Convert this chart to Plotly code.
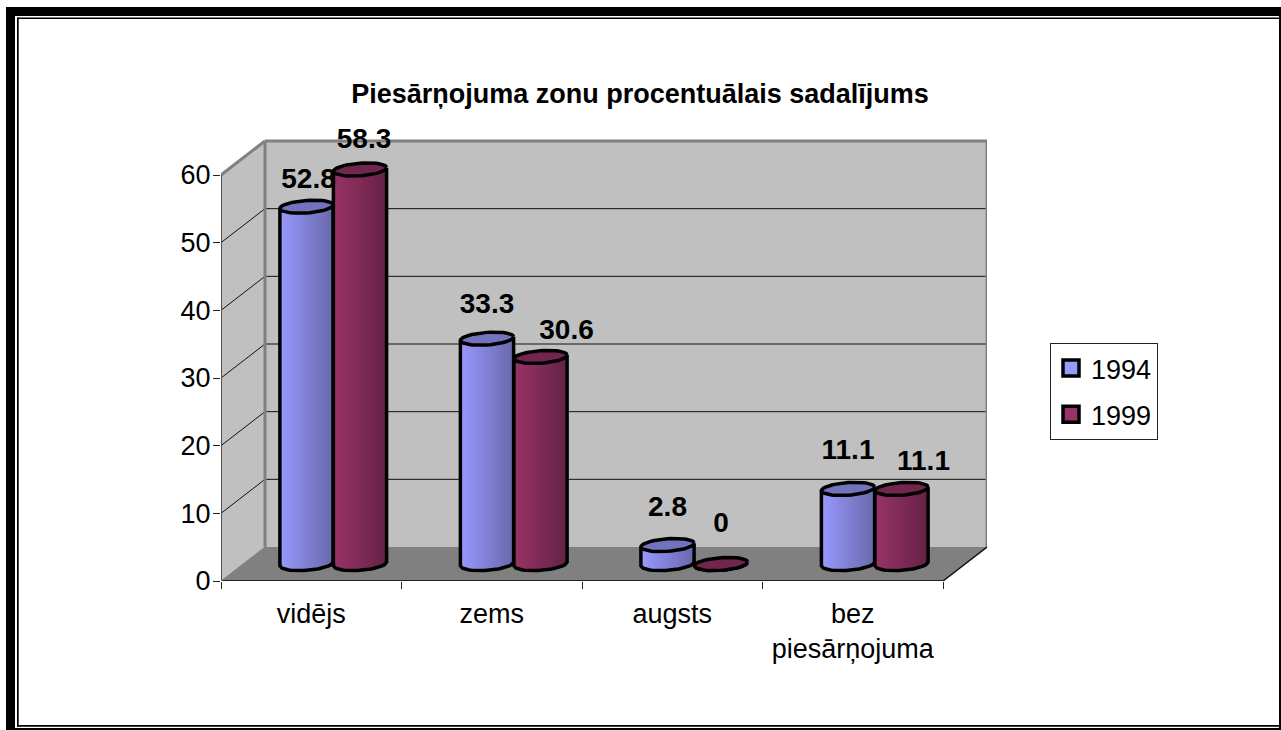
import plotly.graph_objects as go
import math

# ---------- data ----------
categories = ["vidējs", "zems", "augsts", "bez<br>piesārņojuma"]
years = ["1994", "1999"]
values_1994 = [52.8, 33.3, 2.8, 11.1]
values_1999 = [58.3, 30.6, 0, 11.1]
label_1994 = ["52.8", "33.3", "2.8", "11.1"]
label_1999 = ["58.3", "30.6", "0", "11.1"]
y_ticks = [0, 10, 20, 30, 40, 50, 60]
title_text = "Piesārņojuma zonu procentuālais sadalījums"

# ---------- layout constants (pixels) ----------
W, H = 1281, 730
PL, PR, PT, PB = 221, 987, 100, 581   # plot area (headroom above the back wall for labels)
CAT_W = 180.5                         # px per category
VAL_H = 406 / 60                      # px per value unit
DEPTH_X, DEPTH_Y = 44, 34
CYL_A, CYL_B, CYL_TILT = 26.6, 6.3, 0.07
N_STRIPS = 22
FONT = "Liberation Sans"
FS = 27
label_nudge_1994 = [(2, -26), (0, -33), (0, -36), (0, -37)]
label_nudge_1999 = [(4, -29), (26, -25), (0, -39), (22, -26)]

body_left = {"1994": (153, 153, 255), "1999": (153, 51, 102)}
body_right = {"1994": (104, 104, 172), "1999": (100, 34, 70)}
top_col = {"1994": "#7373BD", "1999": "#73264D"}
swatch = {"1994": "#9999FF", "1999": "#993366"}


def dx(px):
    return px / CAT_W


def dy(px):
    return px / VAL_H


def xval(px):
    return (px - PL) / CAT_W


def yval(py):
    return (PB - py) / VAL_H


def xp(px):
    return (px - PL) / (PR - PL)


def yp(py):
    return (PB - py) / (PB - PT)


def mix(a, b, t):
    return "rgb(%d,%d,%d)" % tuple(round(a[i] + (b[i] - a[i]) * t) for i in range(3))


fig = go.Figure()

series = [("1994", values_1994, label_1994, label_nudge_1994, -1),
          ("1999", values_1999, label_1999, label_nudge_1999, 1)]
base = dy(DEPTH_Y / 2)


def center_x(i, side):
    return i + 0.5 + dx(DEPTH_X / 2) + side * dx(CYL_A + 0.15)


def lower(off):
    """downward pixel offset of the lower half of the tilted ellipse"""
    r = max(0.0, 1 - (off / CYL_A) ** 2)
    return CYL_B * math.sqrt(r) - CYL_TILT * off


# cylinder bodies: plain bars underneath, shaded strips and outlines above
for name, vals, _, _, side in series:
    fig.add_trace(go.Bar(
        x=[center_x(i, side) for i in range(len(vals))], y=vals, base=base,
        width=dx(2 * CYL_A), marker=dict(color=swatch[name], line=dict(width=0)),
        showlegend=False, hoverinfo="skip", cliponaxis=False))

for name, vals, _, _, side in series:
    for s in range(N_STRIPS):
        o0 = -CYL_A + 2 * CYL_A * s / N_STRIPS
        o1 = -CYL_A + 2 * CYL_A * (s + 1.25) / N_STRIPS
        o1 = min(o1, CYL_A)
        xs, ys = [], []
        for i, v in enumerate(vals):
            if v <= 0:
                continue
            c = center_x(i, side)
            xs += [c + dx(o0), c + dx(o1), c + dx(o1), c + dx(o0), c + dx(o0), None]
            ys += [base + v, base + v,
                   base - dy(lower(o1)), base - dy(lower(o0)), base + v, None]
        t = (s + 0.5) / N_STRIPS
        fig.add_trace(go.Scatter(
            x=xs, y=ys, mode="lines", fill="toself", line=dict(width=0),
            fillcolor=mix(body_left[name], body_right[name], t),
            showlegend=False, hoverinfo="skip", cliponaxis=False))
    # outline
    xs, ys = [], []
    for i, v in enumerate(vals):
        c = center_x(i, side)
        xs += [c - dx(CYL_A)]
        ys += [base + v - dy(CYL_TILT * CYL_A)]
        for k in range(25):
            off = -CYL_A + 2 * CYL_A * k / 24
            xs.append(c + dx(off))
            ys.append(base - dy(lower(off)))
        xs += [c + dx(CYL_A), None]
        ys += [base + v + dy(CYL_TILT * CYL_A), None]
    fig.add_trace(go.Scatter(x=xs, y=ys, mode="lines", line=dict(color="black", width=3.5),
                             showlegend=False, hoverinfo="skip", cliponaxis=False))
    # top faces
    xs, ys = [], []
    for i, v in enumerate(vals):
        c = center_x(i, side)
        for k in range(49):
            a = 2 * math.pi * k / 48
            off = CYL_A * math.cos(a)
            xs.append(c + dx(off))
            ys.append(base + v - dy(CYL_B * math.sin(a) - CYL_TILT * off))
        xs.append(None)
        ys.append(None)
    fig.add_trace(go.Scatter(x=xs, y=ys, mode="lines", fill="toself",
                             fillcolor=top_col[name], line=dict(color="black", width=3.5),
                             showlegend=False, hoverinfo="skip", cliponaxis=False))

# data labels
for name, vals, labels, nudge, side in series:
    fig.add_trace(go.Scatter(
        x=[center_x(i, side) + dx(nudge[i][0]) for i in range(len(vals))],
        y=[base + vals[i] - dy(nudge[i][1]) for i in range(len(vals))],
        text=labels, mode="text", textposition="middle center",
        textfont=dict(family=FONT, size=28, color="black", weight="bold"),
        showlegend=False, hoverinfo="skip", cliponaxis=False))

# legend entries
for k, (name, *_rest) in enumerate(series):
    fig.add_trace(go.Scatter(
        x=[None], y=[None], mode="markers", name=name, legendgroup=name,
        marker=dict(symbol="square", size=16, color=swatch[name],
                    line=dict(color="black", width=3.5))))

# ---------- walls, floor, grid, frame ----------
shapes = []


def poly(pts, fill, line=None, lw=0, layer="below"):
    path = "M " + " L ".join(f"{xval(a):.4f},{yval(b):.4f}" for a, b in pts) + " Z"
    shapes.append(dict(type="path", path=path, xref="x", yref="y", fillcolor=fill,
                       line=dict(color=line or fill, width=lw), layer=layer))


def seg(p, q, color, lw, layer="below"):
    shapes.append(dict(type="line", xref="x", yref="y", x0=xval(p[0]), y0=yval(p[1]),
                       x1=xval(q[0]), y1=yval(q[1]), line=dict(color=color, width=lw),
                       layer=layer))


top_front = PB - 60 * VAL_H
back_l, back_r = PL + DEPTH_X, PL + 4 * CAT_W + DEPTH_X
back_top, back_bot = top_front - DEPTH_Y, PB - DEPTH_Y
front_r = PL + 4 * CAT_W

poly([(PL, top_front), (back_l, back_top), (back_l, back_bot), (PL, PB)], "#C0C0C0")
poly([(back_l, back_top), (back_r, back_top), (back_r, back_bot), (back_l, back_bot)], "#C0C0C0")
poly([(PL, PB), (back_l, back_bot), (back_r, back_bot), (front_r, PB)], "#808080")
for t in y_ticks[1:-1]:
    py = PB - t * VAL_H
    seg((PL, py), (back_l, py - DEPTH_Y), "#111111", 1)
    seg((back_l, py - DEPTH_Y), (back_r, py - DEPTH_Y), "#111111", 1)
seg((back_l, back_top), (back_r, back_top), "#808080", 3)
seg((back_r, back_top), (back_r, back_bot), "#808080", 3)
seg((back_l, back_top), (back_l, back_bot), "#808080", 3)
seg((PL, top_front), (back_l, back_top), "#808080", 3)
seg((PL, top_front), (PL, PB), "#505050", 2)
seg((PL, PB), (front_r, PB), "#202020", 2)
seg((front_r, PB), (back_r, back_bot), "#111111", 1.5)
seg((PL, PB), (back_l, back_bot), "#808080", 1)


def frame(x0, y0, x1, y1):
    shapes.append(dict(type="rect", xref="paper", yref="paper", x0=xp(x0), x1=xp(x1),
                       y0=yp(y0), y1=yp(y1), fillcolor="black", line=dict(width=0),
                       layer="above"))


frame(6, 7, W, 16)        # thick top
frame(6, 7, 15, 730)      # thick left
frame(17, 17.5, W, 19)    # inner top
frame(17, 17.5, 18.7, 726.7)  # inner left
frame(17, 725, W, 726.7)  # inner bottom
frame(15, 728, W, 730)    # outer bottom
frame(1279, 7, W, 730)    # right

fig.update_layout(
    width=W, height=H, autosize=False,
    margin=dict(l=PL, r=W - PR, t=PT, b=H - PB, pad=0),
    paper_bgcolor="white", plot_bgcolor="white",
    barmode="overlay", bargap=0,
    font=dict(family=FONT, size=FS, color="black"),
    title=dict(text=title_text, x=xp(640), xanchor="center", xref="paper", yref="container",
               y=1 - 94 / H, yanchor="middle",
               font=dict(family=FONT, size=FS, color="black", weight="bold")),
    xaxis=dict(range=[0, (PR - PL) / CAT_W], tickmode="array",
               tickvals=[i + 0.5 for i in range(len(categories))], ticktext=categories,
               ticks="", showgrid=False, zeroline=False, showline=False, ticklabelstandoff=14,
               minor=dict(tickmode="array", tickvals=list(range(len(categories) + 1)),
                          ticks="outside", ticklen=7, tickwidth=1, tickcolor="#222222",
                          showgrid=False),
               fixedrange=True),
    yaxis=dict(range=[0, (PB - PT) / VAL_H], tickmode="array", tickvals=y_ticks,
               ticktext=[str(t) for t in y_ticks], ticks="outside", ticklen=7, tickwidth=1,
               tickcolor="#222222", showgrid=False, zeroline=False, showline=False,
               ticklabelstandoff=-3, fixedrange=True),
    legend=dict(x=xp(1050), y=yp(343), xanchor="left", yanchor="top",
                bgcolor="white", bordercolor="#222222", borderwidth=1,
                tracegroupgap=8, entrywidth=63, entrywidthmode="pixels",
                font=dict(family=FONT, size=FS, color="black"),
                itemclick=False, itemdoubleclick=False),
    shapes=shapes,
    hovermode=False,
)

fig.write_html("out.html", config={"displayModeBar": False},
               post_script="document.body.style.margin='0';document.body.style.overflow='hidden';")
